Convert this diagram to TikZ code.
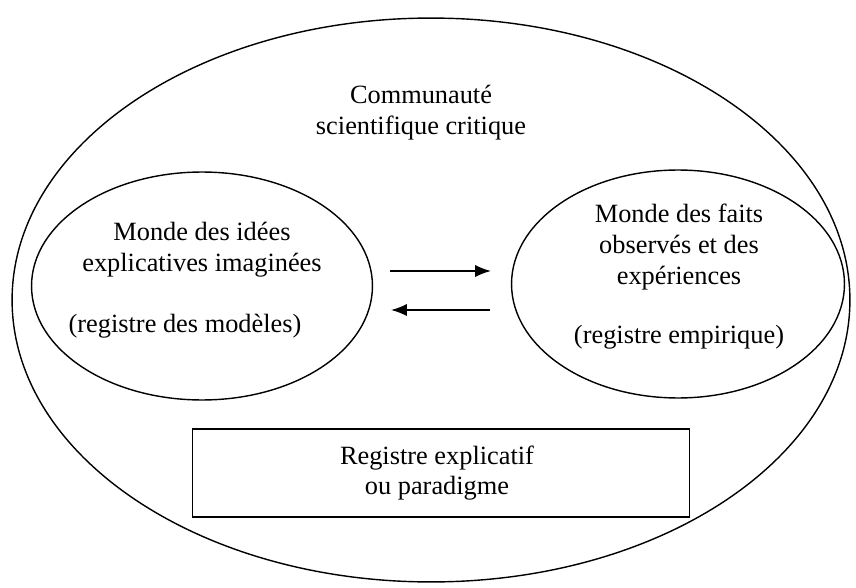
\documentclass[tikz,border=0pt]{standalone}
\usepackage{fontspec}
\setmainfont{Liberation Serif}
\usetikzlibrary{arrows.meta,shapes.geometric}
\begin{document}
\begin{tikzpicture}%
[x=0.02cm,y=-0.02cm,line width=0.8pt,%
bulle/.style={draw, shape=ellipse, inner sep=0pt},%
texte/.style={align=center, font=\fontsize{15}{17.5}\selectfont},%
cadre/.style={draw, minimum width=9.94cm, minimum height=1.76cm},%
fleche/.style={-{Latex[length=9pt,width=7pt]}, line width=1pt}]
\useasboundingbox (0,0) rectangle (856,588);
\node[bulle, minimum width=16.76cm, minimum height=11.28cm] (communaute) at (431,300) {};
\node[bulle, minimum width=6.82cm, minimum height=4.56cm] (idees) at (202,286) {};
\node[bulle, minimum width=6.66cm, minimum height=4.56cm] (faits) at (678,284) {};
\node[cadre] (paradigme) at (441,473) {};
\node[texte] (tcommunaute) at (421,113) {Communauté\\scientifique critique};
\node[texte] (tidees) at (202,250) {Monde des idées\\explicatives imaginées};
\node[texte] (tmodeles) at (185,326) {(registre des modèles)};
\node[texte] (tfaits) at (679,247) {Monde des faits\\observés et des\\expériences};
\node[texte] (tempirique) at (679,337) {(registre empirique)};
\node[texte] (tparadigme) at (437,473) {Registre explicatif\\ou paradigme};
\coordinate (a1) at (390,271);
\coordinate (a2) at (491,271);
\coordinate (b1) at (490,310);
\coordinate (b2) at (391,310);
\draw[fleche] (a1) -- (a2);
\draw[fleche] (b1) -- (b2);
\end{tikzpicture}
\end{document}
